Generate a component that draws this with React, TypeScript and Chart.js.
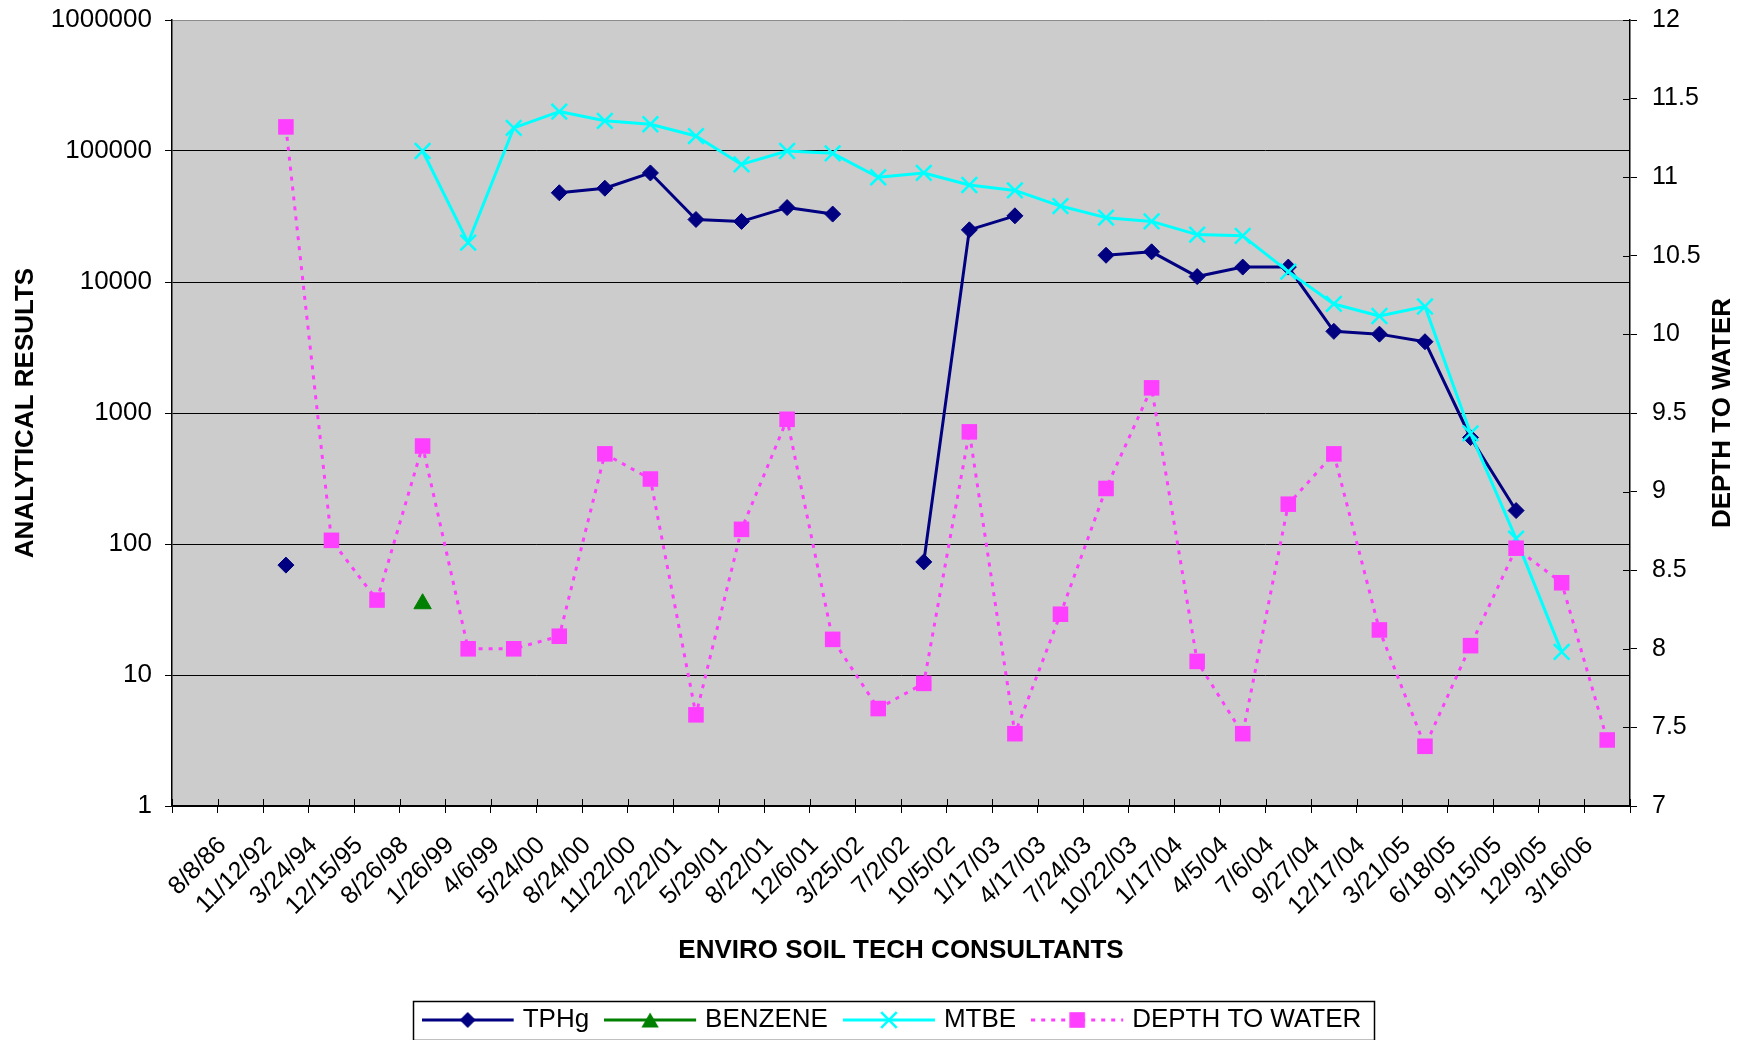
import React, { useEffect, useRef } from 'react';
import { Chart, registerables } from 'chart.js';

Chart.register(...registerables);

const FONT = "'Liberation Sans', Arial, Helvetica, sans-serif";
Chart.defaults.font.family = FONT;

// ---- data ----
const DATES = [
  '8/8/86', '11/12/92', '3/24/94', '12/15/95', '8/26/98', '1/26/99', '4/6/99', '5/24/00',
  '8/24/00', '11/22/00', '2/22/01', '5/29/01', '8/22/01', '12/6/01', '3/25/02', '7/2/02',
  '10/5/02', '1/17/03', '4/17/03', '7/24/03', '10/22/03', '1/17/04', '4/5/04', '7/6/04',
  '9/27/04', '12/17/04', '3/21/05', '6/18/05', '9/15/05', '12/9/05', '3/16/06',
];
const CATEGORIES = ['', ...DATES];

const TPHG = [
  null, null, 69, null, null, null, null, null, 48000, 52000, 68000, 30000, 29000, 37000, 33000, null,
  73, 25000, 32000, null, 16000, 17000, 11000, 13000, 13000, 4200, 4000, 3500, 650, 180, null, null,
];
const BENZENE = [
  null, null, null, null, null, 35, null, null, null, null, null, null, null, null, null, null,
  null, null, null, null, null, null, null, null, null, null, null, null, null, null, null, null,
];
const MTBE = [
  null, null, null, null, null, 100000, 20000, 150000, 200000, 170000, 160000, 130000, 79000, 100000, 96000, 63000,
  68000, 55000, 50000, 38000, 31000, 29000, 23000, 22500, 12000, 6800, 5500, 6500, 700, 110, 15, null,
];
const DEPTH_TO_WATER = [
  null, null, 11.32, 8.69, 8.31, 9.29, 8.0, 8.0, 8.08, 9.24, 9.08, 7.58, 8.76, 9.46, 8.06, 7.62,
  7.78, 9.38, 7.46, 8.22, 9.02, 9.66, 7.92, 7.46, 8.92, 9.24, 8.12, 7.38, 8.02, 8.64, 8.42, 7.42,
];

const LEFT_TICKS = [1, 10, 100, 1000, 10000, 100000, 1000000];
const RIGHT_TICKS = [7, 7.5, 8, 8.5, 9, 9.5, 10, 10.5, 11, 11.5, 12];

const SERIES_NAMES = ['TPHg', 'BENZENE', 'MTBE', 'DEPTH TO WATER'];
const X_TITLE = 'ENVIRO SOIL TECH CONSULTANTS';
const Y_TITLE = 'ANALYTICAL RESULTS';
const Y1_TITLE = 'DEPTH TO WATER';

// ---- styles ----
const C_TPHG = '#000080';
const C_BENZ = '#008000';
const C_MTBE = '#00FFFF';
const C_DTW = '#FF3FFF';
const PLOT_BG = '#CCCCCC';

function drawMarker(g: CanvasRenderingContext2D, kind: string, x: number, y: number, color: string) {
  g.save();
  g.fillStyle = color;
  g.strokeStyle = color;
  g.setLineDash([]);
  if (kind === 'diamond') {
    const r = 8;
    g.beginPath();
    g.moveTo(x - r, y); g.lineTo(x, y - r); g.lineTo(x + r, y); g.lineTo(x, y + r);
    g.closePath(); g.fill();
  } else if (kind === 'triangle') {
    const r = 10;
    g.beginPath();
    g.moveTo(x, y - r * 0.75); g.lineTo(x + r * 0.866, y + r * 0.75); g.lineTo(x - r * 0.866, y + r * 0.75);
    g.closePath(); g.fill();
  } else if (kind === 'cross') {
    const d = 11 * Math.SQRT1_2;
    g.lineWidth = 2.5;
    g.beginPath();
    g.moveTo(x - d, y - d); g.lineTo(x + d, y + d);
    g.moveTo(x - d, y + d); g.lineTo(x + d, y - d);
    g.stroke();
  } else if (kind === 'square') {
    const s = 7.8;
    g.fillRect(x - s, y - s, 2 * s, 2 * s);
  }
  g.restore();
}

function legendImage(kind: string, color: string, lineWidth: number, dash: number[]) {
  const c = document.createElement('canvas');
  c.width = 107;
  c.height = 24;
  const g = c.getContext('2d') as CanvasRenderingContext2D;
  g.strokeStyle = color;
  g.lineWidth = lineWidth;
  g.setLineDash(dash);
  g.beginPath();
  g.moveTo(0, 12);
  g.lineTo(92, 12);
  g.stroke();
  drawMarker(g, kind, 46, 12, color);
  return c;
}

const decorPlugin = {
  id: 'decor',
  beforeDraw(chart: any) {
    const { ctx, chartArea: a } = chart;
    ctx.save();
    ctx.fillStyle = PLOT_BG;
    ctx.fillRect(a.left, a.top, a.right - a.left, a.bottom - a.top);
    ctx.restore();
  },
  beforeDatasetsDraw(chart: any) {
    const { ctx, chartArea: a } = chart;
    const y1 = chart.scales.y1;
    ctx.save();
    ctx.strokeStyle = '#000';
    ctx.lineWidth = 1;
    const n = CATEGORIES.length;
    const w = (a.right - a.left) / n;
    ctx.beginPath();
    for (let i = 0; i <= n; i++) {
      const x = Math.round(a.left + i * w) + 0.5;
      ctx.moveTo(x, a.bottom - 7);
      ctx.lineTo(x, a.bottom);
    }
    RIGHT_TICKS.forEach((v) => {
      const y = Math.round(y1.getPixelForValue(v)) + 0.5;
      ctx.moveTo(a.right - 7, y);
      ctx.lineTo(a.right, y);
    });
    ctx.stroke();
    ctx.restore();
  },
  afterDraw(chart: any) {
    const { ctx, chartArea: a } = chart;
    // legend frame
    const hb = chart.legend && chart.legend.legendHitBoxes;
    if (hb && hb.length) {
      const first = hb[0];
      const last = hb[hb.length - 1];
      const cy = first.top + first.height / 2;
      const left = first.left - 28;
      const right = last.left + last.width + 12;
      ctx.save();
      ctx.strokeStyle = '#000';
      ctx.lineWidth = 1.5;
      ctx.strokeRect(Math.round(left) + 0.5, Math.round(cy - 19.5) + 0.5, Math.round(right - left), 39);
      ctx.restore();
    }
    // right axis title (reads bottom to top)
    ctx.save();
    ctx.translate(chart.scales.y1.right - 26, (a.top + a.bottom) / 2);
    ctx.rotate(-Math.PI / 2);
    ctx.fillStyle = '#000';
    ctx.font = `bold 26px ${FONT}`;
    ctx.textAlign = 'center';
    ctx.textBaseline = 'middle';
    ctx.fillText(Y1_TITLE, 0, 0);
    ctx.restore();
  },
};

export default function App() {
  const ref = useRef<HTMLCanvasElement | null>(null);

  useEffect(() => {
    if (!ref.current) return;
    const imgs = [
      legendImage('diamond', C_TPHG, 3, []),
      legendImage('triangle', C_BENZ, 3, []),
      legendImage('cross', C_MTBE, 3, []),
      legendImage('square', C_DTW, 3, [4, 6]),
    ];

    const chart = new Chart(ref.current, {
      type: 'line',
      data: {
        labels: CATEGORIES,
        datasets: [
          {
            label: SERIES_NAMES[0],
            data: TPHG,
            yAxisID: 'y',
            borderColor: C_TPHG,
            backgroundColor: C_TPHG,
            borderWidth: 3,
            pointStyle: 'rectRot',
            pointRadius: 8,
            pointBorderWidth: 1,
            pointBackgroundColor: C_TPHG,
            pointBorderColor: C_TPHG,
            spanGaps: false,
            order: 3,
          },
          {
            label: SERIES_NAMES[1],
            data: BENZENE,
            yAxisID: 'y',
            borderColor: C_BENZ,
            backgroundColor: C_BENZ,
            borderWidth: 3,
            pointStyle: 'triangle',
            pointRadius: 10,
            pointBorderWidth: 1,
            pointBackgroundColor: C_BENZ,
            pointBorderColor: C_BENZ,
            spanGaps: false,
            order: 2,
          },
          {
            label: SERIES_NAMES[2],
            data: MTBE,
            yAxisID: 'y',
            borderColor: C_MTBE,
            backgroundColor: C_MTBE,
            borderWidth: 3,
            pointStyle: 'crossRot',
            pointRadius: 11,
            pointBorderWidth: 2.5,
            pointBorderColor: C_MTBE,
            spanGaps: false,
            order: 1,
          },
          {
            label: SERIES_NAMES[3],
            data: DEPTH_TO_WATER,
            yAxisID: 'y1',
            borderColor: C_DTW,
            backgroundColor: C_DTW,
            borderWidth: 3,
            borderDash: [4, 6],
            pointStyle: 'rect',
            pointRadius: 11,
            pointBorderWidth: 0,
            pointBackgroundColor: C_DTW,
            pointBorderColor: C_DTW,
            spanGaps: false,
            order: 0,
          },
        ] as any,
      },
      options: {
        responsive: false,
        animation: false,
        events: [],
        layout: { padding: { top: 20, left: 0, right: 0, bottom: 0 } },
        elements: { line: { tension: 0, borderJoinStyle: 'round' } },
        plugins: {
          tooltip: { enabled: false },
          title: { display: false },
          legend: {
            display: true,
            position: 'bottom',
            fullSize: false,
            labels: {
              usePointStyle: true,
              pointStyleWidth: 69,
              padding: 34,
              color: '#000',
              font: { size: 26, family: FONT },
              generateLabels: (ch: any) =>
                ch.data.datasets.map((ds: any, i: number) => ({
                  text: ds.label,
                  pointStyle: imgs[i],
                  datasetIndex: i,
                  fillStyle: 'rgba(0,0,0,0)',
                  strokeStyle: 'rgba(0,0,0,0)',
                  lineWidth: 0,
                  hidden: false,
                  fontColor: '#000',
                })),
            },
          },
        },
        scales: {
          x: {
            type: 'category',
            offset: true,
            afterFit: (s: any) => { s.height = 167; s.paddingLeft = 0; s.paddingRight = 0; },
            grid: {
              display: true,
              drawOnChartArea: false,
              drawTicks: true,
              tickLength: 7,
              offset: true,
              color: '#000',
              tickColor: '#000',
            },
            border: { display: true, color: '#000', width: 1.5 },
            ticks: {
              autoSkip: false,
              maxRotation: 45,
              minRotation: 45,
              padding: 18,
              labelOffset: -18,
              color: '#000',
              font: { size: 25, family: FONT },
            },
            title: {
              display: true,
              text: X_TITLE,
              color: '#000',
              font: { size: 26, weight: 'bold', family: FONT },
              padding: { top: 0, bottom: 7 },
            },
          },
          y: {
            type: 'logarithmic',
            position: 'left',
            min: 1,
            max: 1000000,
            afterFit: (s: any) => { s.width = 172; s.paddingTop = 0; s.paddingBottom = 0; },
            afterBuildTicks: (s: any) => { s.ticks = LEFT_TICKS.map((v) => ({ value: v })); },
            grid: {
              display: true,
              drawOnChartArea: true,
              drawTicks: true,
              tickLength: 7,
              lineWidth: 1,
              color: (c: any) => (c.tick && c.tick.value === 1000000 ? '#8C8C8C' : '#000'),
              tickColor: '#000',
            },
            border: { display: true, color: '#000', width: 1.5 },
            ticks: {
              autoSkip: false,
              padding: 13,
              color: '#000',
              font: { size: 26, family: FONT },
              callback: (v: any) => String(v),
            },
            title: {
              display: true,
              text: Y_TITLE,
              color: '#000',
              font: { size: 26, weight: 'bold', family: FONT },
              padding: { top: 10, bottom: 0 },
            },
          },
          y1: {
            type: 'linear',
            position: 'right',
            min: 7,
            max: 12,
            afterFit: (s: any) => { s.width = 119; s.paddingTop = 0; s.paddingBottom = 0; },
            afterBuildTicks: (s: any) => { s.ticks = RIGHT_TICKS.map((v) => ({ value: v })); },
            grid: {
              display: true,
              drawOnChartArea: false,
              drawTicks: true,
              tickLength: 7,
              color: '#000',
              tickColor: '#000',
            },
            border: { display: true, color: '#000', width: 1.5 },
            ticks: {
              autoSkip: false,
              padding: 15,
              color: '#000',
              font: { size: 25, family: FONT },
              callback: (v: any) => String(v),
            },
          },
        },
      } as any,
      plugins: [decorPlugin],
    });
    return () => chart.destroy();
  }, []);

  return (
    <div style={{ position: 'absolute', left: 0, top: 0, width: 1749, height: 1040, overflow: 'hidden', background: '#fff' }}>
      <canvas ref={ref} width={1749} height={1043} style={{ display: 'block' }} />
    </div>
  );
}
